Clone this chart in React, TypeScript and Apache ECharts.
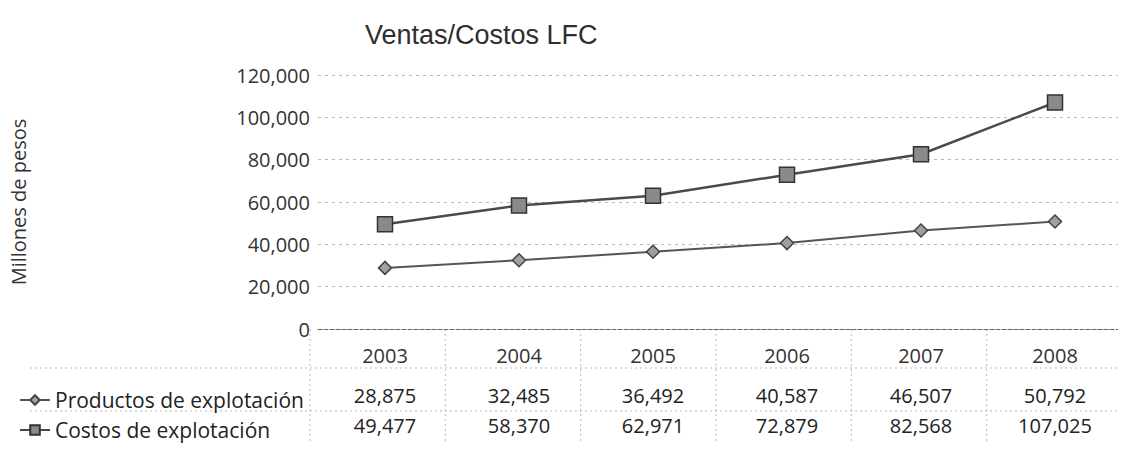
import React, { useEffect, useRef } from "react";
import * as echarts from "echarts";

const years = ["2003", "2004", "2005", "2006", "2007", "2008"];
const productos = [28875, 32485, 36492, 40587, 46507, 50792];
const costos = [49477, 58370, 62971, 72879, 82568, 107025];
const seriesNames = ["Productos de explotación", "Costos de explotación"];
const yMin = 0;
const yMax = 120000;
const yStep = 20000;

const fmt = (v: number) => v.toLocaleString("en-US");

const W = 1126;
const H = 450;
const GL = 310;
const GR = 4;
const GT = 75;
const GB = 121;

export default function App() {
  const ref = useRef<HTMLDivElement>(null);
  useEffect(() => {
    if (!ref.current) return;
    const chart = echarts.init(ref.current, undefined, { renderer: "svg" });
    const plotW = W - GL - GR;
    const colW = plotW / years.length;
    const lineStyle = { stroke: "#b8b8b8", lineWidth: 1, lineDash: [2, 3] };
    const graphics: any[] = [
      { type: "line", shape: { x1: 30, y1: 368, x2: W - 4, y2: 368 }, style: lineStyle, silent: true },
      { type: "line", shape: { x1: 30, y1: 411, x2: W - 4, y2: 411 }, style: lineStyle, silent: true },
    ];
    for (let k = 0; k < years.length; k++) {
      const x = GL + k * colW;
      graphics.push({
        type: "line",
        shape: { x1: x, y1: H - GB, x2: x, y2: 442 },
        style: lineStyle,
        silent: true,
      });
    }
    chart.setOption({
      animation: false,
      backgroundColor: "#ffffff",
      title: {
        text: "Ventas/Costos LFC",
        left: 360,
        top: 16,
        textStyle: {
          fontFamily: "Liberation Sans",
          fontSize: 27,
          fontWeight: "normal",
          color: "#2e2e2e",
        },
      },
      grid: { left: GL, right: GR, top: GT, bottom: GB },
      legend: {
        data: seriesNames,
        orient: "vertical",
        left: 14,
        top: 383,
        itemWidth: 30,
        itemHeight: 12,
        itemGap: 6,
        textStyle: { fontFamily: "Open Sans", fontSize: 21, color: "#222222", lineHeight: 24 },
      },
      xAxis: {
        type: "category",
        data: years,
        boundaryGap: true,
        axisTick: { show: false },
        axisLine: { lineStyle: { color: "#666666", type: [4, 2], width: 1 } },
        axisLabel: {
          margin: 11,
          interval: 0,
          formatter: (val: string, idx: number) =>
            `{y|${val}}\n{s| }\n{v|${fmt(productos[idx])}}\n{v|${fmt(costos[idx])}}`,
          rich: {
            y: { fontFamily: "Open Sans", fontSize: 20, color: "#333333", lineHeight: 30 },
            s: { fontSize: 6, lineHeight: 10 },
            v: { fontFamily: "Open Sans", fontSize: 20, color: "#222222", lineHeight: 30 },
          },
        },
        splitLine: { show: false },
      },
      yAxis: {
        type: "value",
        min: yMin,
        max: yMax,
        interval: yStep,
        name: "Millones de pesos",
        nameLocation: "middle",
        nameGap: 290,
        nameTextStyle: { fontFamily: "Open Sans", fontSize: 20, color: "#333333" },
        axisLine: { show: false },
        axisTick: { show: false },
        axisLabel: {
          margin: 8,
          formatter: (v: number) => fmt(v),
          fontFamily: "Open Sans",
          fontSize: 20,
          color: "#333333",
        },
        splitLine: { lineStyle: { color: "#b8b8b8", type: [3, 4], width: 1 } },
      },
      series: [
        {
          name: seriesNames[0],
          type: "line",
          data: productos,
          symbol: "diamond",
          symbolSize: 13,
          lineStyle: { color: "#555555", width: 2 },
          itemStyle: { color: "#a0a0a0", borderColor: "#444444", borderWidth: 1.5 },
        },
        {
          name: seriesNames[1],
          type: "line",
          data: costos,
          symbol: "rect",
          symbolSize: 15,
          lineStyle: { color: "#4a4a4a", width: 2.5 },
          itemStyle: { color: "#8a8a8a", borderColor: "#333333", borderWidth: 1.5 },
        },
      ],
      graphic: graphics,
    });
    return () => chart.dispose();
  }, []);
  return <div ref={ref} style={{ width: W, height: H, marginLeft: -8, marginTop: -8 }} />;
}
